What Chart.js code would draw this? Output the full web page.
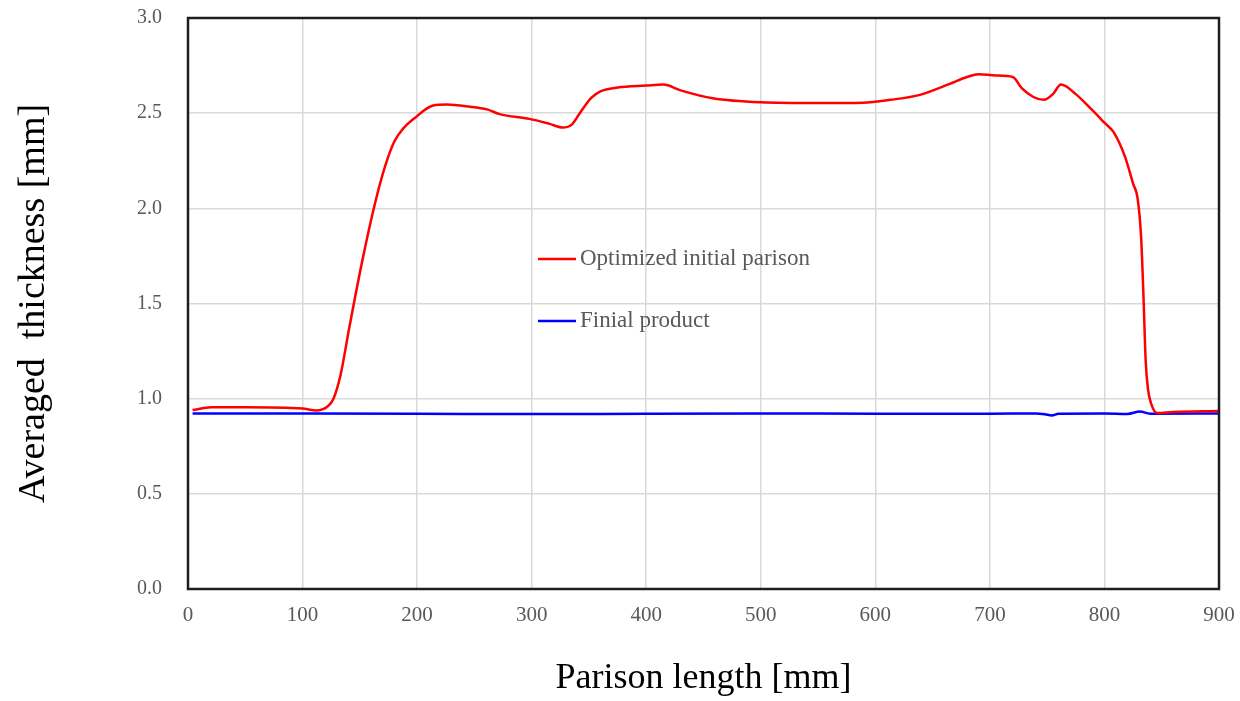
<!DOCTYPE html>
<html>
<head>
<meta charset="utf-8">
<script src="https://cdn.jsdelivr.net/npm/chart.js@4.4.1/dist/chart.umd.min.js"></script>
<style>
  html, body { margin: 0; padding: 0; background: #ffffff; }
  #wrap { width: 1240px; height: 701px; position: relative; }
</style>
</head>
<body>
<div id="wrap"><canvas id="c" width="1240" height="701"></canvas></div>
<script>
// ---- data ----
const redLabel = "Optimized initial parison";
const blueLabel = "Finial product";
const xTitle = "Parison length [mm]";
const yTitle = "Averaged  thickness [mm]";

const redX = [4, 20, 50, 100, 112, 122, 127, 133, 141, 152, 163, 172, 180, 188, 198, 214, 226, 245, 261, 272, 298, 315, 327, 335, 342, 352, 360, 375, 400, 415, 430, 458, 500, 550, 589, 613, 639, 665, 680, 690, 705, 720, 728, 738, 747, 755, 762, 775, 787, 800, 808, 818, 825, 829, 832, 834, 836, 838, 841, 846, 860, 900];
const redY = [0.94, 0.955, 0.955, 0.948, 0.938, 0.96, 1.0, 1.12, 1.38, 1.72, 2.02, 2.22, 2.35, 2.42, 2.475, 2.54, 2.545, 2.535, 2.52, 2.495, 2.47, 2.445, 2.425, 2.44, 2.5, 2.58, 2.615, 2.635, 2.645, 2.65, 2.62, 2.578, 2.557, 2.553, 2.555, 2.57, 2.596, 2.654, 2.69, 2.705, 2.698, 2.69, 2.63, 2.585, 2.57, 2.6, 2.65, 2.6, 2.53, 2.45, 2.4, 2.27, 2.13, 2.05, 1.85, 1.55, 1.2, 1.05, 0.97, 0.925, 0.93, 0.935];

const blueX = [4, 100, 200, 300, 400, 500, 600, 700, 740, 748, 754, 760, 800, 820, 831, 840, 900];
const blueY = [0.922, 0.922, 0.921, 0.919, 0.921, 0.922, 0.921, 0.921, 0.922, 0.918, 0.912, 0.921, 0.922, 0.92, 0.932, 0.921, 0.922];

const xTicks = [0, 100, 200, 300, 400, 500, 600, 700, 800, 900];
const yTicks = [0.0, 0.5, 1.0, 1.5, 2.0, 2.5, 3.0];

const toPts = (xs, ys) => xs.map((x, i) => ({ x: x, y: ys[i] }));

const frameAndLegend = {
  id: 'frameAndLegend',
  afterDatasetsDraw(chart) {
    const { ctx, chartArea: a } = chart;
    ctx.save();
    ctx.strokeStyle = '#1e1e1e';
    ctx.lineWidth = 2.5;
    ctx.strokeRect(a.left, a.top, a.right - a.left, a.bottom - a.top);
    // legend inside plot
    const w = a.right - a.left, h = a.bottom - a.top;
    const items = [
      { label: redLabel, color: '#ff0000', fy: (259 - 18) / 571 },
      { label: blueLabel, color: '#0000ff', fy: (321 - 18) / 571 }
    ];
    const lx0 = a.left + w * (538 - 188) / 1031;
    const lx1 = a.left + w * (576 - 188) / 1031;
    ctx.font = '23px "Liberation Serif", "Times New Roman", serif';
    ctx.textBaseline = 'middle';
    ctx.textAlign = 'left';
    items.forEach(it => {
      const y = a.top + h * it.fy;
      ctx.strokeStyle = it.color;
      ctx.lineWidth = 2.5;
      ctx.beginPath();
      ctx.moveTo(lx0, y);
      ctx.lineTo(lx1, y);
      ctx.stroke();
      ctx.fillStyle = '#595959';
      ctx.fillText(it.label, lx1 + 4, y);
    });
    ctx.restore();
  }
};

new Chart(document.getElementById('c'), {
  type: 'scatter',
  data: {
    datasets: [
      { label: redLabel, data: toPts(redX, redY), showLine: true, borderColor: '#ff0000', backgroundColor: '#ff0000', borderWidth: 2.5, pointRadius: 0, cubicInterpolationMode: 'monotone' },
      { label: blueLabel, data: toPts(blueX, blueY), showLine: true, borderColor: '#0000ff', backgroundColor: '#0000ff', borderWidth: 2.5, pointRadius: 0, cubicInterpolationMode: 'monotone' }
    ]
  },
  options: {
    responsive: false,
    animation: false,
    events: [],
    layout: { padding: { top: 18, right: 21, left: 0, bottom: 0 } },
    plugins: { legend: { display: false }, tooltip: { enabled: false } },
    scales: {
      x: {
        type: 'linear', min: 0, max: 900,
        afterBuildTicks: s => { s.ticks = xTicks.map(v => ({ value: v })); },
        afterFit: s => { s.height = 701 - 589; s.paddingLeft = 0; s.paddingRight = 0; s.paddingTop = 0; s.paddingBottom = 0; },
        grid: { color: '#d9d9d9', lineWidth: 1.5, drawTicks: false },
        border: { display: false },
        ticks: { padding: 14, color: '#595959', font: { family: '"Liberation Serif", "Times New Roman", serif', size: 21 }, maxRotation: 0 },
        title: { display: true, text: xTitle, color: '#000000', padding: { top: 0, bottom: 1 }, font: { family: '"Liberation Serif", "Times New Roman", serif', size: 36 } }
      },
      y: {
        type: 'linear', min: 0, max: 3,
        afterBuildTicks: s => { s.ticks = yTicks.map(v => ({ value: v })); },
        afterFit: s => { s.width = 188; s.paddingLeft = 0; s.paddingRight = 0; s.paddingTop = 0; s.paddingBottom = 0; },
        grid: { color: '#d9d9d9', lineWidth: 1.5, drawTicks: false },
        border: { display: false },
        ticks: { padding: 26, color: '#595959', font: { family: '"Liberation Serif", "Times New Roman", serif', size: 20 }, callback: v => Number(v).toFixed(1) },
        title: { display: true, text: yTitle, color: '#000000', padding: { top: 11, bottom: 0 }, font: { family: '"Liberation Serif", "Times New Roman", serif', size: 38 } }
      }
    }
  },
  plugins: [frameAndLegend]
});
</script>
</body>
</html>
